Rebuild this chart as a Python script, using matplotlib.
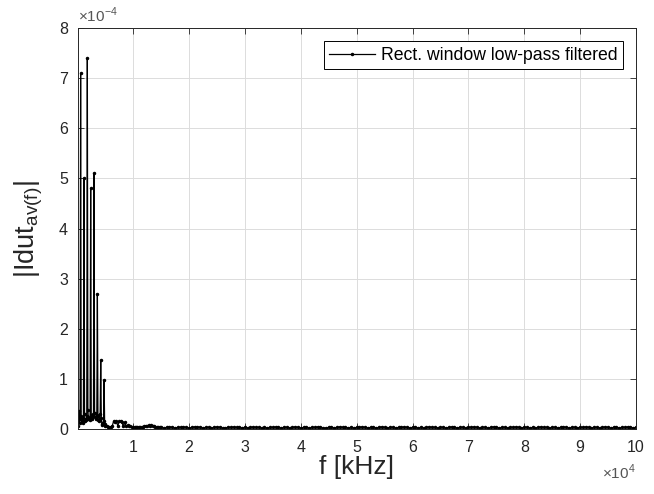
import numpy as np
import matplotlib
matplotlib.use('Agg')
from matplotlib import pyplot as plt

plt.rcParams['font.family'] = ['Liberation Sans', 'DejaVu Sans']

# spectrum samples, values in units of 1e-6
low_freq = np.arange(100, 5001, 100)          # Hz
low_vals = [5, 15, 35, 12, 20, 710, 25, 14, 18, 12,
            22, 500, 30, 15, 20, 18, 25, 740, 38, 20,
            22, 18, 24, 480, 28, 22, 20, 25, 30, 510,
            32, 24, 20, 22, 28, 270, 25, 18, 15, 20,
            30, 137, 22, 10, 8, 12, 15, 98, 10, 5]

mid_freq = np.arange(5250, 15000, 250)
mid_vals = [5, 4, 3, 4, 6, 15, 14, 16, 6, 15,
            16, 14, 5, 13, 6, 7, 5, 6, 4, 4,
            3, 4, 3, 3, 4, 3, 4, 5, 6, 5,
            7, 6, 7, 5, 6, 4, 3, 4, 3]

tail_freq = np.arange(15000, 100001, 500)
tail_vals = [3, 2, 3, 4, 3, 2, 3, 3, 4, 3, 2, 3, 4, 4, 3, 2, 3, 3, 2,
             3, 4, 3, 2, 2, 3, 3, 4, 3, 3, 2, 3, 2, 3, 4, 3, 3, 2, 3,
             2, 3, 3, 4, 3, 2, 3, 3, 2, 3, 4, 3, 2, 3, 3, 2, 3, 3, 4,
             3, 2, 2, 3, 3, 2, 3, 4, 3, 3, 2, 3, 2, 3, 3, 4, 3, 2, 3,
             3, 2, 3, 4, 3, 2, 3, 3, 2, 3, 3, 4, 3, 2, 3, 3, 2, 3, 2,
             3, 4, 3, 3, 2, 3, 3, 2, 3, 4, 3, 2, 3, 3, 2, 3, 3, 4, 3,
             2, 3, 3, 2, 3, 4, 3, 2, 3, 3, 2, 3, 3, 4, 3, 2, 3, 3, 2,
             3, 2, 3, 4, 3, 3, 2, 3, 3, 2, 3, 4, 3, 2, 3, 3, 2, 3, 3,
             4, 3, 2, 3, 3, 2, 3, 4, 3, 2, 3, 3, 2, 3, 3, 4, 3, 2, 3]

freq = np.concatenate([low_freq, mid_freq, tail_freq])
vals = np.concatenate([low_vals, mid_vals, tail_vals]) * 1e-6

xticks = [1, 2, 3, 4, 5, 6, 7, 8, 9, 10]
yticks = [0, 1, 2, 3, 4, 5, 6, 7, 8]

dark = '#262626'

fig = plt.figure(figsize=(6.54, 4.94), dpi=100)
ax = fig.add_axes([0.119, 0.1316, 0.8535, 0.8114])

ax.plot(freq, vals, '-', color='black', linewidth=0.9, marker='.',
        markersize=3, label='Rect. window low-pass filtered')

ax.set_xlim(100, 1e5)
ax.set_ylim(0, 8e-4)
ax.set_xticks([t * 1e4 for t in xticks])
ax.set_xticklabels([str(t) for t in xticks])
ax.set_yticks([t * 1e-4 for t in yticks])
ax.set_yticklabels([str(t) for t in yticks])

ax.grid(True, color='#dcdcdc', linewidth=0.7)
ax.set_axisbelow(True)
ax.tick_params(direction='in', top=True, right=True, length=4,
               labelsize=11.5, colors=dark, width=0.6)
ax.tick_params(axis='x', pad=8)
ax.tick_params(axis='y', pad=7)
for s in ax.spines.values():
    s.set_color(dark)
    s.set_linewidth(0.7)

ax.set_xlabel('f [kHz]', fontsize=19, color=dark, labelpad=0)
ax.set_ylabel('|Idut$_{\\mathregular{av(f)}}$|', fontsize=19.5, color=dark, labelpad=10)

ax.text(0.0, 1.008, '\u00d710$^{\\mathregular{-4}}$', transform=ax.transAxes,
        fontsize=11, color='#555555', ha='left', va='bottom')
ax.text(1.0, -0.085, '\u00d710$^{\\mathregular{4}}$', transform=ax.transAxes,
        fontsize=11, color='#555555', ha='right', va='top')

leg = ax.legend(loc='upper right', fontsize=12.7, handlelength=2.6,
                handletextpad=0.35, borderaxespad=0.75, borderpad=0.3,
                fancybox=False, framealpha=1)
leg.get_frame().set_edgecolor('black')
leg.get_frame().set_linewidth(0.7)

plt.savefig('out.png', dpi=100)
